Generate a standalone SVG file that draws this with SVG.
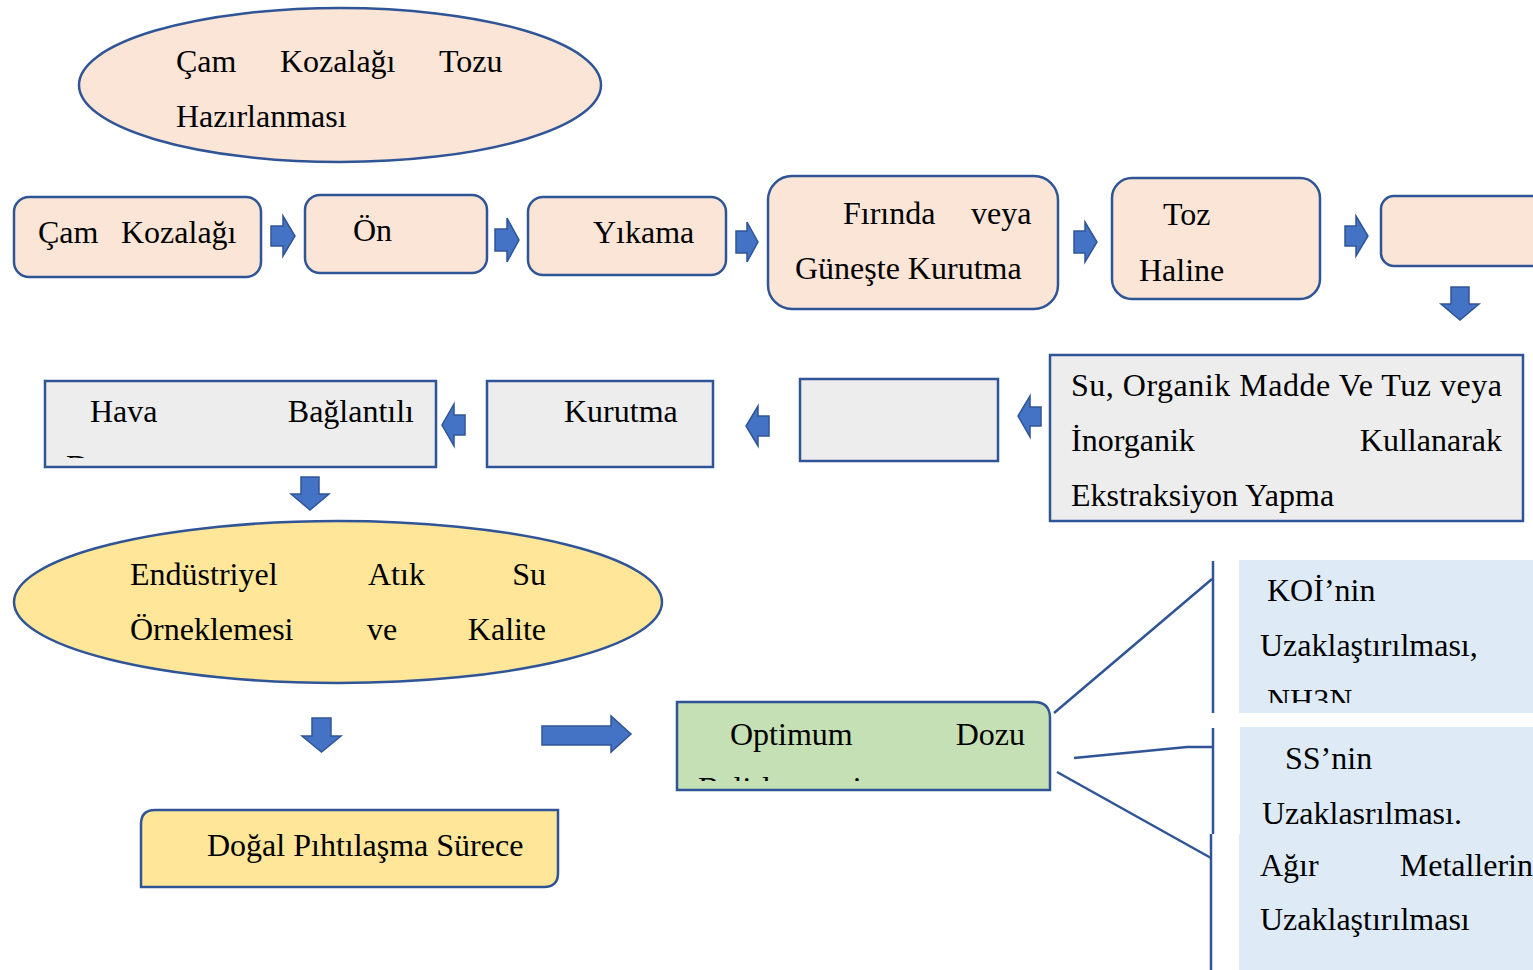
<svg xmlns="http://www.w3.org/2000/svg" width="1533" height="970" viewBox="0 0 1533 970">
<style>
text{font-family:"Liberation Serif","Times New Roman",serif;font-size:32px;fill:#000}
.peach{fill:#FBE5D6;stroke:#2F5597;stroke-width:2.5}
.gray{fill:#EDEDED;stroke:#2F5597;stroke-width:2.5}
.yellow{fill:#FFE699;stroke:#2F5597;stroke-width:2.5}
.green{fill:#C5E0B4;stroke:#2F5597;stroke-width:2.5}
.blue{fill:#DEEBF7;stroke:none}
.arr{fill:#4472C4;stroke:#2F5597;stroke-width:1.5;stroke-linejoin:miter}
.ln{fill:none;stroke:#2F5597;stroke-width:2.5}
</style>
<defs>
<clipPath id="cHava"><rect x="45" y="381" width="391" height="77"/></clipPath>
<clipPath id="cOpt"><rect x="677" y="702" width="373" height="79"/></clipPath>
<clipPath id="cKoi"><rect x="1239" y="560" width="294" height="143"/></clipPath>
</defs>

<g id="n-ellipse-top">
<ellipse class="peach" cx="340" cy="85" rx="261" ry="77"/>
<text x="176" y="72">Çam</text><text x="280" y="72">Kozalağı</text><text x="439" y="72">Tozu</text>
<text x="176" y="127">Hazırlanması</text>
</g>

<g id="n-cam">
<rect class="peach" x="14" y="197" width="247" height="80" rx="15"/>
<text x="38" y="243">Çam</text><text x="121" y="243">Kozalağı</text>
</g>
<g id="n-on">
<rect class="peach" x="305" y="195" width="182" height="78" rx="15"/>
<text x="353" y="241">Ön</text>
</g>
<g id="n-yikama">
<rect class="peach" x="528" y="197" width="198" height="78" rx="15"/>
<text x="593" y="243">Yıkama</text>
</g>
<g id="n-firinda">
<rect class="peach" x="768" y="176" width="290" height="133" rx="24"/>
<text x="843" y="224">Fırında</text><text x="971" y="224">veya</text>
<text x="795" y="279">Güneşte Kurutma</text>
</g>
<g id="n-toz">
<rect class="peach" x="1112" y="178" width="208" height="121" rx="20"/>
<text x="1163" y="225">Toz</text>
<text x="1139" y="281">Haline</text>
</g>
<g id="n-empty1">
<rect class="peach" x="1381" y="196" width="170" height="70" rx="13"/>
</g>

<g id="n-ekstraksiyon">
<rect class="gray" x="1050" y="355" width="473" height="166"/>
<text x="1071" y="396" textLength="431" lengthAdjust="spacing">Su, Organik Madde Ve Tuz veya</text>
<text x="1071" y="451">İnorganik</text><text x="1502" y="451" text-anchor="end">Kullanarak</text>
<text x="1071" y="506">Ekstraksiyon Yapma</text>
</g>
<g id="n-empty2">
<rect class="gray" x="800" y="379" width="198" height="82"/>
</g>
<g id="n-kurutma">
<rect class="gray" x="487" y="381" width="226" height="86"/>
<text x="564" y="422">Kurutma</text>
</g>
<g id="n-hava">
<rect class="gray" x="45" y="381" width="391" height="86"/>
<text x="90" y="422">Hava</text><text x="414" y="422" text-anchor="end">Bağlantılı</text>
<text x="66" y="477" clip-path="url(#cHava)">Damıtma</text>
</g>

<g id="n-endustriyel">
<ellipse class="yellow" cx="338" cy="602" rx="324" ry="81"/>
<text x="130" y="585">Endüstriyel</text><text x="368" y="585">Atık</text><text x="546" y="585" text-anchor="end">Su</text>
<text x="130" y="640">Örneklemesi</text><text x="367" y="640">ve</text><text x="546" y="640" text-anchor="end">Kalite</text>
</g>

<g id="n-dogal">
<path class="yellow" d="M155,810 H558 V873 Q558,887 544,887 H141 V824 Q141,810 155,810 Z"/>
<text x="207" y="856">Doğal Pıhtılaşma Sürece</text>
</g>

<g id="n-optimum">
<path class="green" d="M677,702 H1034 Q1050,702 1050,718 V790 H677 Z"/>
<text x="730" y="745">Optimum</text><text x="1025" y="745" text-anchor="end">Dozu</text>
<text x="698" y="799" clip-path="url(#cOpt)">Belirlenmesi</text>
</g>

<g id="n-koi">
<rect class="blue" x="1239" y="560" width="294" height="153"/>
<text x="1267" y="601">KOİ’nin</text>
<text x="1260" y="656">Uzaklaştırılması,</text>
<text x="1267" y="711" clip-path="url(#cKoi)">NH3N</text>
</g>
<g id="n-ss">
<rect class="blue" x="1240" y="727" width="293" height="107"/>
<text x="1285" y="769">SS’nin</text>
<text x="1262" y="824">Uzaklasrılması.</text>
</g>
<g id="n-agir">
<rect class="blue" x="1239" y="834" width="294" height="136"/>
<text x="1260" y="876">Ağır</text><text x="1533" y="876" text-anchor="end">Metallerin</text>
<text x="1260" y="930">Uzaklaştırılması</text>
</g>

<g id="connectors">
<path class="arr" d="M271,226 H283 V216 L295,236 L283,256 V246 H271 Z"/>
<path class="arr" d="M495,229 H507 V218 L519,240 L507,262 V251 H495 Z"/>
<path class="arr" d="M736,231 H747 V222 L758,242 L747,262 V253 H736 Z"/>
<path class="arr" d="M1074,231 H1085 V222 L1097,242 L1085,262 V253 H1074 Z"/>
<path class="arr" d="M1345,226 H1356 V216 L1368,236 L1356,256 V246 H1345 Z"/>
<path class="arr" d="M1451,287 H1469 V304 H1479 L1460,320 L1441,304 H1451 Z"/>
<path class="arr" d="M1041,407 H1030 V396 L1018,416 L1030,437 V426 H1041 Z"/>
<path class="arr" d="M769,416 H758 V406 L746,426 L758,446 V436 H769 Z"/>
<path class="arr" d="M465,415 H454 V404 L442,425 L454,446 V435 H465 Z"/>
<path class="arr" d="M301,477 H319 V494 H329 L310,510 L291,494 H301 Z"/>
<path class="arr" d="M312,718 H331 V736 H341 L321.5,752 L302,736 H312 Z"/>
<path class="arr" d="M542,726 H611 V716 L631,734 L611,752 V745 H542 Z"/>
<path class="ln" d="M1054,713 L1212,579"/>
<path class="ln" d="M1213,561 V713"/>
<path class="ln" d="M1074,758 L1187,747 H1213"/>
<path class="ln" d="M1213,728 V834"/>
<path class="ln" d="M1057,772 L1211,858"/>
<path class="ln" d="M1211,834 V970"/>
</g>
</svg>
